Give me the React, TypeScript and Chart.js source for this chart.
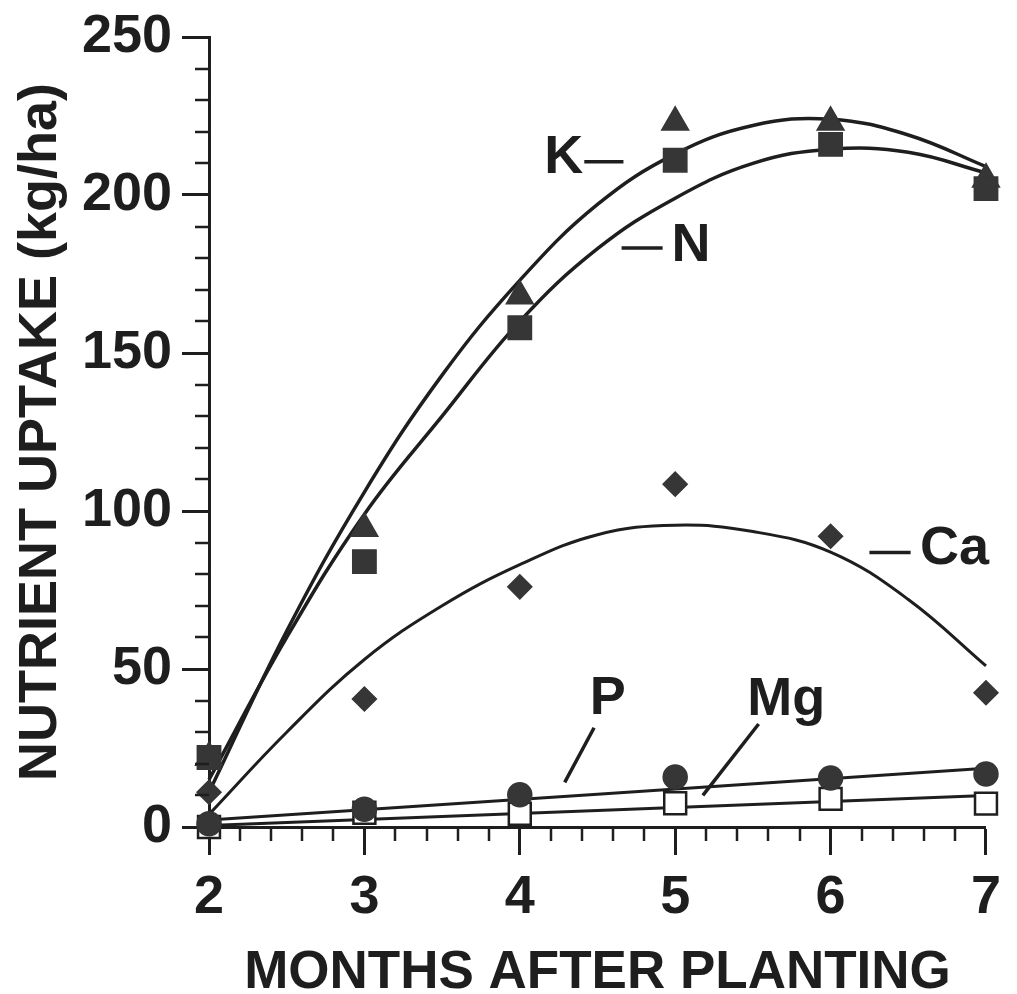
import React, { useEffect, useRef } from 'react';
import { Chart, registerables } from 'chart.js';

Chart.register(...registerables);

// ---- data ----
const months = [2, 3, 4, 5, 6, 7];
const kUptake = [22, 94.5, 168, 223, 223, 205];
const nUptake = [22, 84, 158, 211, 216, 202];
const caUptake = [11, 40.5, 76, 108.5, 92, 42.5];
const pUptake = [1, 5.6, 10.2, 15.8, 15.5, 16.8];
const mgUptake = [0, 4.5, 4.2, 7.5, 8.9, 7.4];

// fitted curves at half-month steps
const curveMonths = [2, 2.5, 3, 3.5, 4, 4.5, 5, 5.5, 6, 6.5, 7];
const kCurve = [11, 62, 106, 143, 173, 197, 213, 222, 224, 219, 209];
const nCurve = [15, 60, 99, 130, 160, 183, 199, 210, 214.5, 213.5, 207];
const caCurve = [4, 30, 53, 70, 83, 92.5, 95.5, 93.5, 87, 72, 51];
const lineMonths = [2, 7];
const pLine = [2.2, 18.6];
const mgLine = [0.5, 10];

const xMin = 2;
const xMax = 7;
const yMin = 0;
const yMax = 250;
const yStep = 50;
const yMinorStep = 10;
const xMinorStep = 0.2;

const yTitle = 'NUTRIENT UPTAKE (kg/ha)';
const xTitle = 'MONTHS AFTER PLANTING';

// series labels placed in data units
const labelTexts = ['K', 'N', 'Ca', 'P', 'Mg'];
const labelMonths = [4.283, 5.102, 6.798, 4.566, 5.714];
const labelValues = [211.7, 183.8, 87.8, 40.5, 40.3];

// dashes / leader lines: [month1, value1, month2, value2]
const leaderLines = [
  [4.415, 210.5, 4.667, 210.5],
  [4.655, 183.2, 4.919, 183.2],
  [6.25, 86.9, 6.515, 86.9],
  [4.478, 31.4, 4.289, 14.1],
  [5.537, 32.6, 5.178, 10.0],
];

// ---- styles ----
const INK = '#1e1e1e';
const MARK = '#363636';
const FONT = '"Liberation Sans", Arial, Helvetica, sans-serif';

const toXY = (xs: number[], ys: number[]) => xs.map((x, i) => ({ x, y: ys[i] }));

const decorPlugin = {
  id: 'decor',
  afterDraw(chart: any) {
    const { ctx, chartArea } = chart;
    const xs = chart.scales.x;
    const ys = chart.scales.y;
    ctx.save();
    ctx.strokeStyle = INK;
    ctx.lineCap = 'butt';
    // minor ticks
    ctx.lineWidth = 2.5;
    for (let v = yMin + yMinorStep; v < yMax; v += yMinorStep) {
      if (Math.abs(v % yStep) < 1e-6) continue;
      const py = Math.round(ys.getPixelForValue(v));
      ctx.beginPath();
      ctx.moveTo(chartArea.left - 14, py);
      ctx.lineTo(chartArea.left, py);
      ctx.stroke();
    }
    for (let i = 1; i < Math.round((xMax - xMin) / xMinorStep); i++) {
      if (i % 5 === 0) continue;
      const m = xMin + i * xMinorStep;
      const px = Math.round(xs.getPixelForValue(m));
      ctx.beginPath();
      ctx.moveTo(px, chartArea.bottom);
      ctx.lineTo(px, chartArea.bottom + 14);
      ctx.stroke();
    }
    // leader lines
    ctx.lineWidth = 3.5;
    leaderLines.forEach(([m1, v1, m2, v2]) => {
      ctx.beginPath();
      ctx.moveTo(xs.getPixelForValue(m1), ys.getPixelForValue(v1));
      ctx.lineTo(xs.getPixelForValue(m2), ys.getPixelForValue(v2));
      ctx.stroke();
    });
    // labels
    ctx.fillStyle = INK;
    ctx.font = `bold 54px ${FONT}`;
    ctx.textAlign = 'center';
    ctx.textBaseline = 'middle';
    labelTexts.forEach((t, i) => {
      ctx.fillText(t, xs.getPixelForValue(labelMonths[i]), ys.getPixelForValue(labelValues[i]));
    });
    ctx.restore();
  },
};

export default function App() {
  const ref = useRef<HTMLCanvasElement>(null);

  useEffect(() => {
    const canvas = ref.current;
    if (!canvas) return;

    const marker = (label: string, ys: number[], style: string, radius: number, fill: string, border: string, bw: number, order: number) => ({
      label,
      data: toXY(months, ys),
      showLine: false,
      pointStyle: style,
      pointRadius: radius,
      pointHoverRadius: radius,
      pointBackgroundColor: fill,
      pointBorderColor: border,
      pointBorderWidth: bw,
      backgroundColor: fill,
      borderColor: border,
      clip: false,
      order,
    });
    const curve = (label: string, xsArr: number[], ys: number[], width: number, order: number) => ({
      label,
      data: toXY(xsArr, ys),
      showLine: true,
      borderColor: INK,
      borderWidth: width,
      pointRadius: 0,
      pointHoverRadius: 0,
      tension: 0.4,
      fill: false,
      clip: false,
      order,
    });

    const tickFont = { family: FONT, size: 54, weight: 'bold' as const, lineHeight: 1 };

    const chart = new Chart(canvas, {
      type: 'line',
      data: {
        datasets: [
          marker('N', nUptake, 'rect', 16.5, MARK, MARK, 1.5, 0),
          marker('K', kUptake, 'triangle', 15.5, MARK, MARK, 1.5, 1),
          marker('Ca', caUptake, 'rectRot', 12, MARK, MARK, 1.5, 2),
          marker('P', pUptake, 'circle', 12, MARK, MARK, 1.5, 3),
          marker('Mg', mgUptake, 'rect', 15.5, '#ffffff', INK, 2.5, 4),
          curve('K fit', curveMonths, kCurve, 3.5, 5),
          curve('N fit', curveMonths, nCurve, 3.5, 6),
          curve('Ca fit', curveMonths, caCurve, 3, 7),
          curve('P fit', lineMonths, pLine, 3, 8),
          curve('Mg fit', lineMonths, mgLine, 3, 9),
        ] as any,
      },
      options: {
        responsive: false,
        maintainAspectRatio: false,
        animation: false,
        events: [],
        layout: { padding: { left: 0, right: 15, top: 30, bottom: 0 } },
        plugins: {
          legend: { display: false },
          tooltip: { enabled: false },
        },
        scales: {
          x: {
            type: 'linear',
            min: xMin,
            max: xMax,
            afterFit: (s: any) => {
              s.height = 167;
            },
            ticks: {
              stepSize: 1,
              autoSkip: false,
              maxRotation: 0,
              color: INK,
              font: tickFont,
              padding: 16,
            },
            grid: {
              drawOnChartArea: false,
              drawTicks: true,
              tickLength: 28,
              tickWidth: 3,
              tickColor: INK,
              color: INK,
            },
            border: { display: true, color: INK, width: 3 },
            title: {
              display: true,
              text: xTitle,
              color: INK,
              font: { family: FONT, size: 53, weight: 'bold', lineHeight: 1 },
              padding: { top: 0, bottom: -6 },
            },
          },
          y: {
            type: 'linear',
            min: yMin,
            max: yMax,
            afterFit: (s: any) => {
              s.width = 209;
            },
            ticks: {
              stepSize: yStep,
              color: INK,
              font: tickFont,
              padding: 10,
            },
            grid: {
              drawOnChartArea: false,
              drawTicks: true,
              tickLength: 27,
              tickWidth: 3,
              tickColor: INK,
              color: INK,
            },
            border: { display: true, color: INK, width: 3 },
            title: {
              display: true,
              text: yTitle,
              color: INK,
              font: { family: FONT, size: 54, weight: 'bold', lineHeight: 1.2 },
              padding: { top: 9, bottom: 0 },
            },
          },
        },
      } as any,
      plugins: [decorPlugin],
    });

    return () => chart.destroy();
  }, []);

  return (
    <div style={{ position: 'absolute', left: 0, top: 0, width: 1017, height: 994, background: '#ffffff', overflow: 'hidden' }}>
      <canvas ref={ref} width={1017} height={994} style={{ display: 'block', width: 1017, height: 994 }} />
    </div>
  );
}
